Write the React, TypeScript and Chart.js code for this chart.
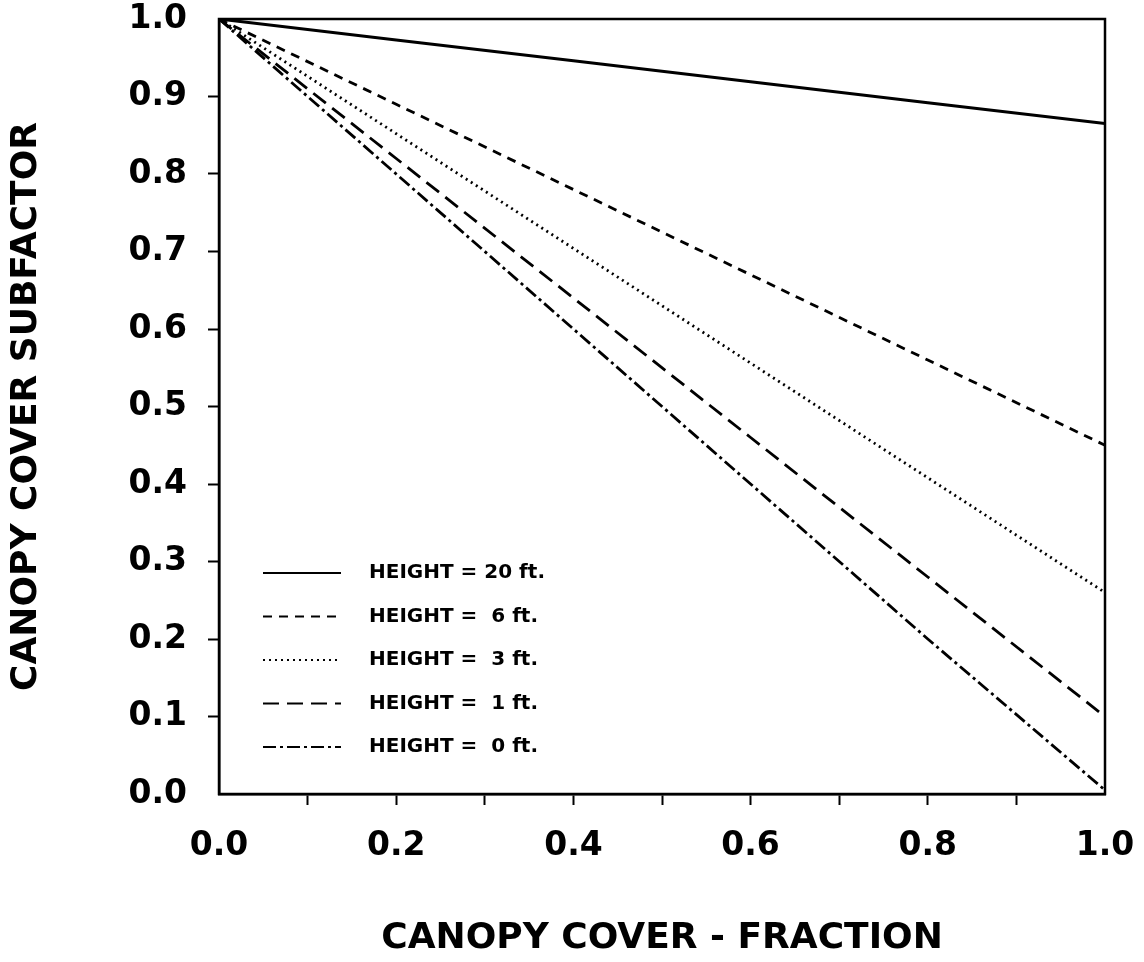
import React, { useEffect, useRef } from "react";
import { Chart, registerables } from "chart.js";

Chart.register(...registerables);

const coverFraction = [0, 0.2, 0.4, 0.6, 0.8, 1.0];
const seriesLabels = ["HEIGHT = 20 ft.", "HEIGHT =  6 ft.", "HEIGHT =  3 ft.", "HEIGHT =  1 ft.", "HEIGHT =  0 ft."];
const height20 = [1.0, 0.973, 0.946, 0.919, 0.892, 0.865];
const height6 = [1.0, 0.89, 0.78, 0.67, 0.56, 0.45];
const height3 = [1.0, 0.852, 0.704, 0.556, 0.408, 0.26];
const height1 = [1.0, 0.82, 0.64, 0.46, 0.28, 0.1];
const height0 = [1.0, 0.8, 0.6, 0.4, 0.2, 0.005];
const seriesValues = [height20, height6, height3, height1, height0];
const seriesDashes: number[][] = [[], [9, 7], [2, 4], [16, 8], [13, 4, 3, 4]];
const yTickValues = [0, 0.1, 0.2, 0.3, 0.4, 0.5, 0.6, 0.7, 0.8, 0.9, 1.0];

const FONT = "'DejaVu Sans', 'Liberation Sans', Arial, sans-serif";

const framePlugin = {
  id: "frame",
  afterDraw(chart: any) {
    const { ctx, chartArea } = chart;
    ctx.save();
    ctx.strokeStyle = "#000";
    ctx.lineWidth = 2.5;
    ctx.strokeRect(chartArea.left, chartArea.top, chartArea.right - chartArea.left, chartArea.bottom - chartArea.top);
    ctx.restore();
  },
};

const legendPlugin = {
  id: "insideLegend",
  afterDraw(chart: any) {
    const { ctx, chartArea } = chart;
    ctx.save();
    ctx.font = `bold 20px ${FONT}`;
    ctx.fillStyle = "#000";
    ctx.textBaseline = "middle";
    ctx.textAlign = "left";
    chart.data.datasets.forEach((ds: any, i: number) => {
      const y = chartArea.bottom - 221 + i * 43.5;
      ctx.strokeStyle = "#000";
      ctx.lineWidth = 2;
      ctx.setLineDash(ds.borderDash || []);
      ctx.beginPath();
      ctx.moveTo(chartArea.left + 44, y);
      ctx.lineTo(chartArea.left + 122, y);
      ctx.stroke();
      ctx.setLineDash([]);
      ctx.fillText(ds.label, chartArea.left + 150, y);
    });
    ctx.restore();
  },
};

export default function App() {
  const ref = useRef<HTMLCanvasElement | null>(null);
  useEffect(() => {
    if (!ref.current) return;
    const chart = new Chart(ref.current, {
      type: "line",
      data: {
        datasets: seriesValues.map((vals, i) => ({
          label: seriesLabels[i],
          data: coverFraction.map((x, j) => ({ x, y: vals[j] })),
          borderColor: "#000",
          borderWidth: i === 0 ? 3 : 2.8,
          borderDash: seriesDashes[i],
          pointRadius: 0,
          fill: false,
          tension: 0,
        })),
      },
      options: {
        animation: false,
        responsive: false,
        layout: { padding: { top: 19, right: 39, left: 0, bottom: 0 } },
        plugins: { legend: { display: false }, tooltip: { enabled: false } },
        scales: {
          x: {
            type: "linear",
            min: 0,
            max: 1,
            afterFit(scale: any) {
              scale.height = 168;
              scale.paddingLeft = 0;
              scale.paddingRight = 0;
            },
            ticks: {
              stepSize: 0.1,
              autoSkip: false,
              maxRotation: 0,
              padding: 22,
              color: "#000",
              font: { family: FONT, size: 33, weight: "bold" },
              callback: (v: any) => {
                const n = Math.round(Number(v) * 10);
                return n % 2 === 0 ? (n / 10).toFixed(1) : "";
              },
            },
            grid: {
              drawOnChartArea: false,
              tickLength: 11,
              tickWidth: 2,
              tickColor: (c: any) => (c.index === 0 || c.index === 10 ? "rgba(0,0,0,0)" : "#000"),
            },
            border: { display: true, color: "#000", width: 2.5 },
            title: {
              display: true,
              text: "CANOPY COVER - FRACTION",
              color: "#000",
              font: { family: FONT, size: 36, weight: "bold" },
              padding: { top: 0, bottom: 2 },
            },
          },
          y: {
            type: "linear",
            min: 0,
            max: 1,
            afterFit(scale: any) {
              scale.width = 219;
              scale.paddingTop = 0;
              scale.paddingBottom = 0;
            },
            afterBuildTicks(scale: any) {
              scale.ticks = yTickValues.map((v) => ({ value: v }));
            },
            ticks: {
              padding: 21,
              color: "#000",
              font: { family: FONT, size: 33, weight: "bold" },
              callback: (v: any) => Number(v).toFixed(1),
            },
            grid: {
              drawOnChartArea: false,
              tickLength: 11,
              tickWidth: 2,
              tickColor: (c: any) => (c.index === 0 || c.index === 10 ? "rgba(0,0,0,0)" : "#000"),
            },
            border: { display: true, color: "#000", width: 2.5 },
            title: {
              display: true,
              text: "CANOPY COVER SUBFACTOR",
              color: "#000",
              font: { family: FONT, size: 36, weight: "bold" },
              padding: { top: 5, bottom: 0 },
            },
          },
        },
      },
      plugins: [framePlugin, legendPlugin],
    });
    return () => chart.destroy();
  }, []);
  return (
    <div style={{ position: "fixed", left: 0, top: 0, width: 1144, height: 962, background: "#fff" }}>
      <canvas ref={ref} width={1144} height={962} />
    </div>
  );
}
